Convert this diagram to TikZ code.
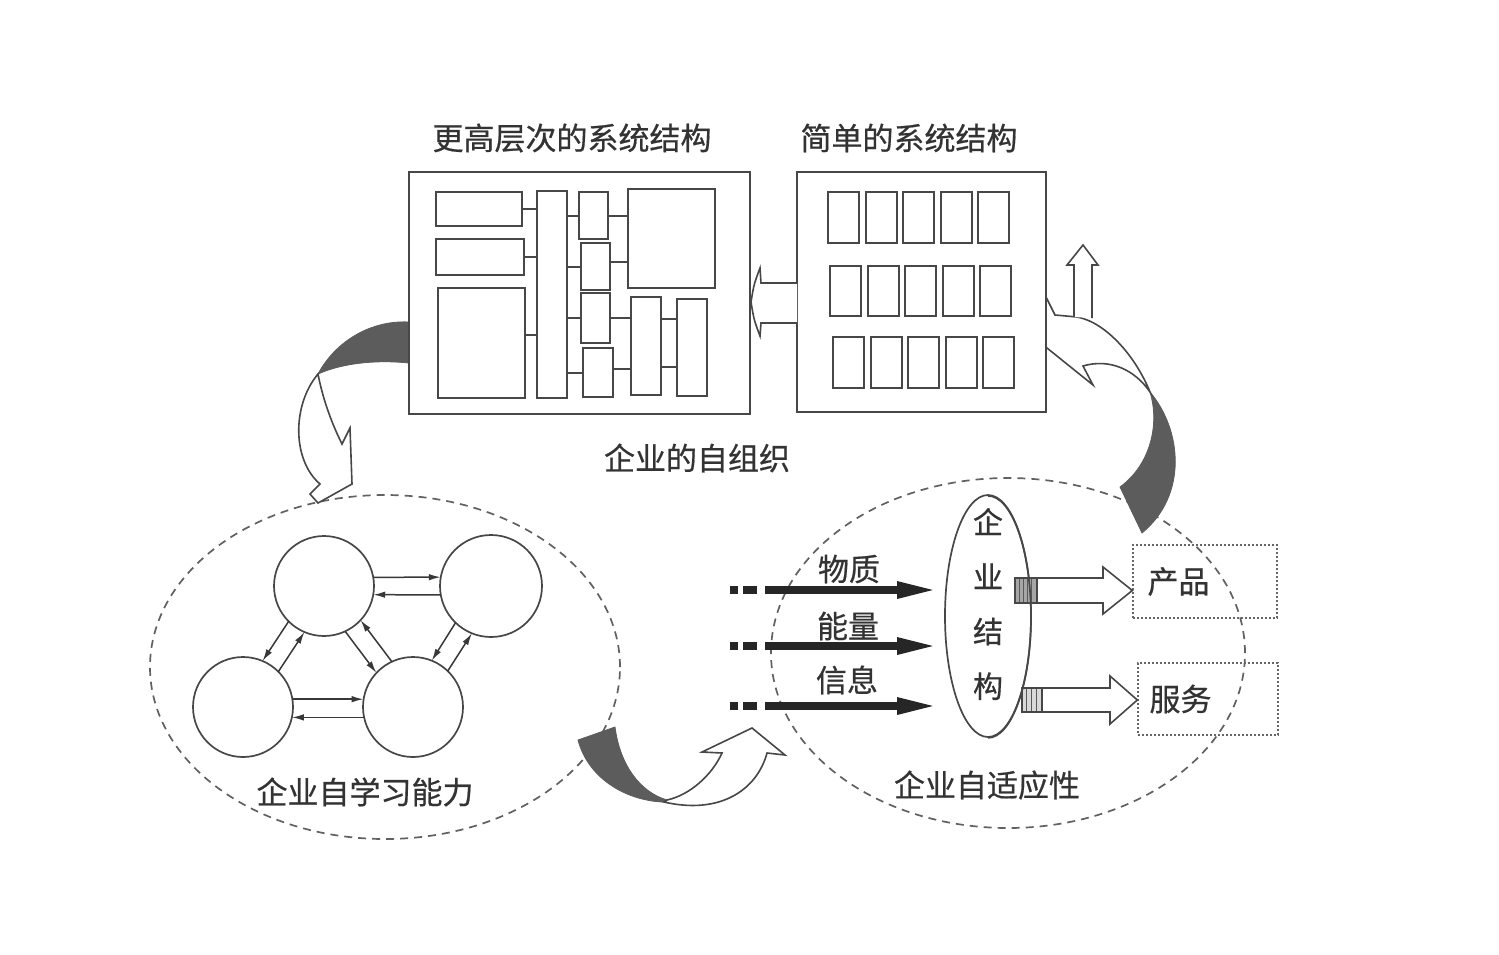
\documentclass[tikz,border=0pt]{standalone}
\usepackage{fontspec}
\newfontfamily\cjk[FakeBold=0.6]{Noto Sans CJK SC}
\usetikzlibrary{shapes.geometric,arrows.meta,calc}
\newcommand\rbx[5]{\node[rb,minimum width=#4pt,minimum height=#5pt] (#1) at (#2,#3) {};}
\begin{document}
\begin{tikzpicture}[x=1pt,y=-1pt,
  ln/.style={draw=black!72,line width=2pt},
  rb/.style={ln,rectangle,inner sep=0pt,outer sep=0pt,fill=white},
  dsh/.style={draw=black!62,line width=1.7pt,dash pattern=on 8pt off 6pt},
  dark/.style={fill=black!64,draw=black!64,line width=0.8pt},
  hollow/.style={fill=white,draw=black!72,line width=1.6pt,line join=miter},
  lbl/.style={text=black!80,font=\cjk\fontsize{31}{31}\selectfont,inner sep=0pt},
  circ/.style={circle,draw=black!72,line width=1.7pt,minimum size=100pt,inner sep=0pt,outer sep=0pt,fill=white},
  pa/.style={draw=black!78,line width=1.5pt,-{Latex[length=12pt,width=6.5pt]}},
  thk/.style={draw=black!85,line width=8pt,dash pattern=on 8pt off 5pt on 14pt off 8pt on 500pt off 0pt,-{Triangle[length=42pt,width=15pt]}},
  dotbox/.style={draw=black!60,line width=1.4pt,dash pattern=on 1.6pt off 2.4pt,rectangle,inner sep=0pt},
]
\useasboundingbox[fill=white] (0,0) rectangle (1499,954);

% dashed ellipses
\node[ellipse,dsh,minimum width=470pt,minimum height=344pt,inner sep=0pt] (LE) at (385,667) {};
\node[ellipse,dsh,minimum width=474pt,minimum height=350pt,inner sep=0pt] (RE) at (1008,653) {};

% left curved arrow
\path[dark] (409,322) .. controls (370,320) and (335,342) .. (318,374)
  .. controls (345,362) and (380,360) .. (409,363) -- cycle;
\path[hollow] (318,374) .. controls (292,405) and (292,460) .. (320,484) -- (310,494) -- (318,503)
  -- (352,484) -- (350,428) -- (342,444) .. controls (330,420) and (322,395) .. (318,374) -- cycle;

% right curved arrow
\path[dark] (1150,392) .. controls (1182,430) and (1188,495) .. (1142,533) -- (1120,487)
  .. controls (1150,465) and (1160,425) .. (1150,392) -- cycle;
\path[hollow] (1150,392) .. controls (1135,355) and (1105,322) .. (1077,317) -- (1055,315)
  -- (1040,285) -- (1025,320) -- (1042,344) -- (1093,385) -- (1083,366)
  .. controls (1110,358) and (1135,370) .. (1150,392) -- cycle;

% bottom middle curved arrow
\path[dark] (578,740) -- (615,727) .. controls (620,765) and (640,792) .. (667,800)
  -- (662,802) .. controls (625,800) and (588,778) .. (578,740) -- cycle;
\path[hollow] (667,800) .. controls (690,795) and (712,775) .. (722,753) -- (702,752) -- (752,728)
  -- (785,755) -- (767,753) .. controls (757,790) and (720,815) .. (664,802) -- cycle;

% big boxes
\rbx{LB}{579.5}{293}{341}{242}
\rbx{RB}{921.5}{292}{249}{240}

% inner structure of the left box
\rbx{A}{479}{209}{86}{34}
\rbx{B}{480}{257}{88}{36}
\rbx{C}{481.5}{343}{87}{110}
\rbx{D}{552}{294.5}{30}{207}
\rbx{E1}{593.5}{215.5}{29}{47}
\rbx{E2}{595.5}{266.5}{29}{47}
\rbx{E3}{595.5}{318}{29}{50}
\rbx{E4}{598}{372.5}{30}{49}
\rbx{F}{671.5}{238.5}{87}{99}
\rbx{G}{646}{346}{30}{98}
\rbx{H}{692}{347.5}{30}{97}
\draw[ln] (A.east) -- (A.east -| D.west);
\draw[ln] (B.east) -- (B.east -| D.west);
\draw[ln] ([yshift=8pt]C.east) -- ([yshift=8pt]C.east -| D.west);
\foreach \e in {E1,E2,E3,E4} \draw[ln] (\e.west -| D.east) -- (\e.west);
\draw[ln] (E1.east) -- (E1.east -| F.west);
\draw[ln] ([yshift=5pt]E2.east) -- ([yshift=5pt]E2.east -| F.west);
\draw[ln] (E3.east) -- (E3.east -| G.west);
\draw[ln] ([yshift=4pt]E4.east) -- ([yshift=4pt]E4.east -| G.west);
\draw[ln] ([yshift=27pt]G.east) -- ([yshift=27pt]G.east -| H.west);
\draw[ln] ([yshift=-21pt]G.east) -- ([yshift=-21pt]G.east -| H.west);

% grid of the right box
\foreach \r/\yy/\xs/\hh in {1/217.5/843.5/51, 2/291/845.5/50, 3/362.5/848.5/51}
  \foreach \c in {0,...,4}
    \node[rb,minimum width=31pt,minimum height=\hh pt] (g\r\c) at ({\xs+37.6*\c},\yy) {};

% hollow arrow between the boxes
\path[hollow] (RB.west |- 0,283) -- (761,283) -- (760,268) .. controls (754,284) .. (751,302)
  .. controls (754,320) .. (760,336) -- (761,323) -- (RB.west |- 0,323);
% up arrow
\path[hollow] (1074,317) -- (1074,265) -- (1067,265) -- (1083,245) -- (1098,265) -- (1092,265) -- (1092,318);

% circles
\node[circ] (C1) at (324,586) {};
\node[circ,minimum size=102pt] (C2) at (491,586) {};
\node[circ] (C3) at (243,707) {};
\node[circ] (C4) at (413,707) {};
\draw[pa] (C1.10) -- (C2.170);
\draw[pa] (C2.190) -- (C1.350);
\draw[pa] (C3.9) -- (C4.171);
\draw[pa] (C4.192) -- (C3.348);
\draw[pa] (C1.225) -- (C3.67);
\draw[pa] (C3.45) -- (C1.247);
\draw[pa] (C1.295) -- (C4.137);
\draw[pa] (C4.115) -- (C1.317);
\draw[pa] (C2.226) -- (C4.68);
\draw[pa] (C4.46) -- (C2.248);

% right side: inner ellipse, inflows and outflows
\node[ellipse,draw=black!72,line width=1.7pt,minimum width=86pt,minimum height=242pt,inner sep=0pt] (IE) at (988,616) {};
\coordinate (m1) at (730,590);
\coordinate (m2) at (730,646);
\coordinate (m3) at (730,706);
\foreach \m in {m1,m2,m3} \draw[thk] (\m) -- ([xshift=-5pt]\m -| IE.west);

\node[dotbox,minimum width=144pt,minimum height=73pt] (P) at (1205,581.5) {};
\node[dotbox,minimum width=140pt,minimum height=72pt] (S) at (1208,699) {};

\path[hollow] (1015,578) -- (1103,578) -- (1103,567) -- (P.west |- 0,590.5) -- (1103,614) -- (1103,603) -- (1015,603) -- cycle;
\path[fill=black!35] (1015,578) rectangle (1037,603);
\foreach \xx in {1015,1019,1023,1027,1031,1037} \draw[black!65,line width=1pt] (\xx,578) -- (\xx,603);
\draw[black!72,line width=1.6pt] (1015,578) rectangle (1037,603);
\path[hollow] (1022,688) -- (1110,688) -- (1110,676) -- (S.west |- 0,700) -- (1110,724) -- (1110,712) -- (1022,712) -- cycle;
\path[fill=black!15] (1022,688) rectangle (1042,712);
\foreach \xx in {1026,1031,1036} \draw[black!65,line width=1pt] (\xx,688) -- (\xx,712);
\draw[black!72,line width=1.6pt] (1022,688) rectangle (1042,712);
\draw[black!72,line width=1.7pt] (IE.south) arc[start angle=-90,end angle=90,x radius=43pt,y radius=121pt];

% texts
\node[lbl] (t1) at (572,138) {更高层次的系统结构};
\node[lbl] (t2) at (909,138) {简单的系统结构};
\node[lbl] (t3) at (697,458) {企业的自组织};
\node[lbl] (t4) at (365,792) {企业自学习能力};
\node[lbl] (t5) at (987,785) {企业自适应性};
\node[lbl] (w1) at (849,569) {物质};
\node[lbl] (w2) at (848,626) {能量};
\node[lbl] (w3) at (847,680) {信息};
\node[lbl,font=\cjk\fontsize{30}{54.7}\selectfont,align=center] (ie) at (988,604) {企\\业\\结\\构};
\node[lbl,anchor=west] (p1) at ([xshift=15pt]P.west) {产品};
\node[lbl,anchor=west] (s1) at ([xshift=12pt]S.west) {服务};
\end{tikzpicture}
\end{document}
